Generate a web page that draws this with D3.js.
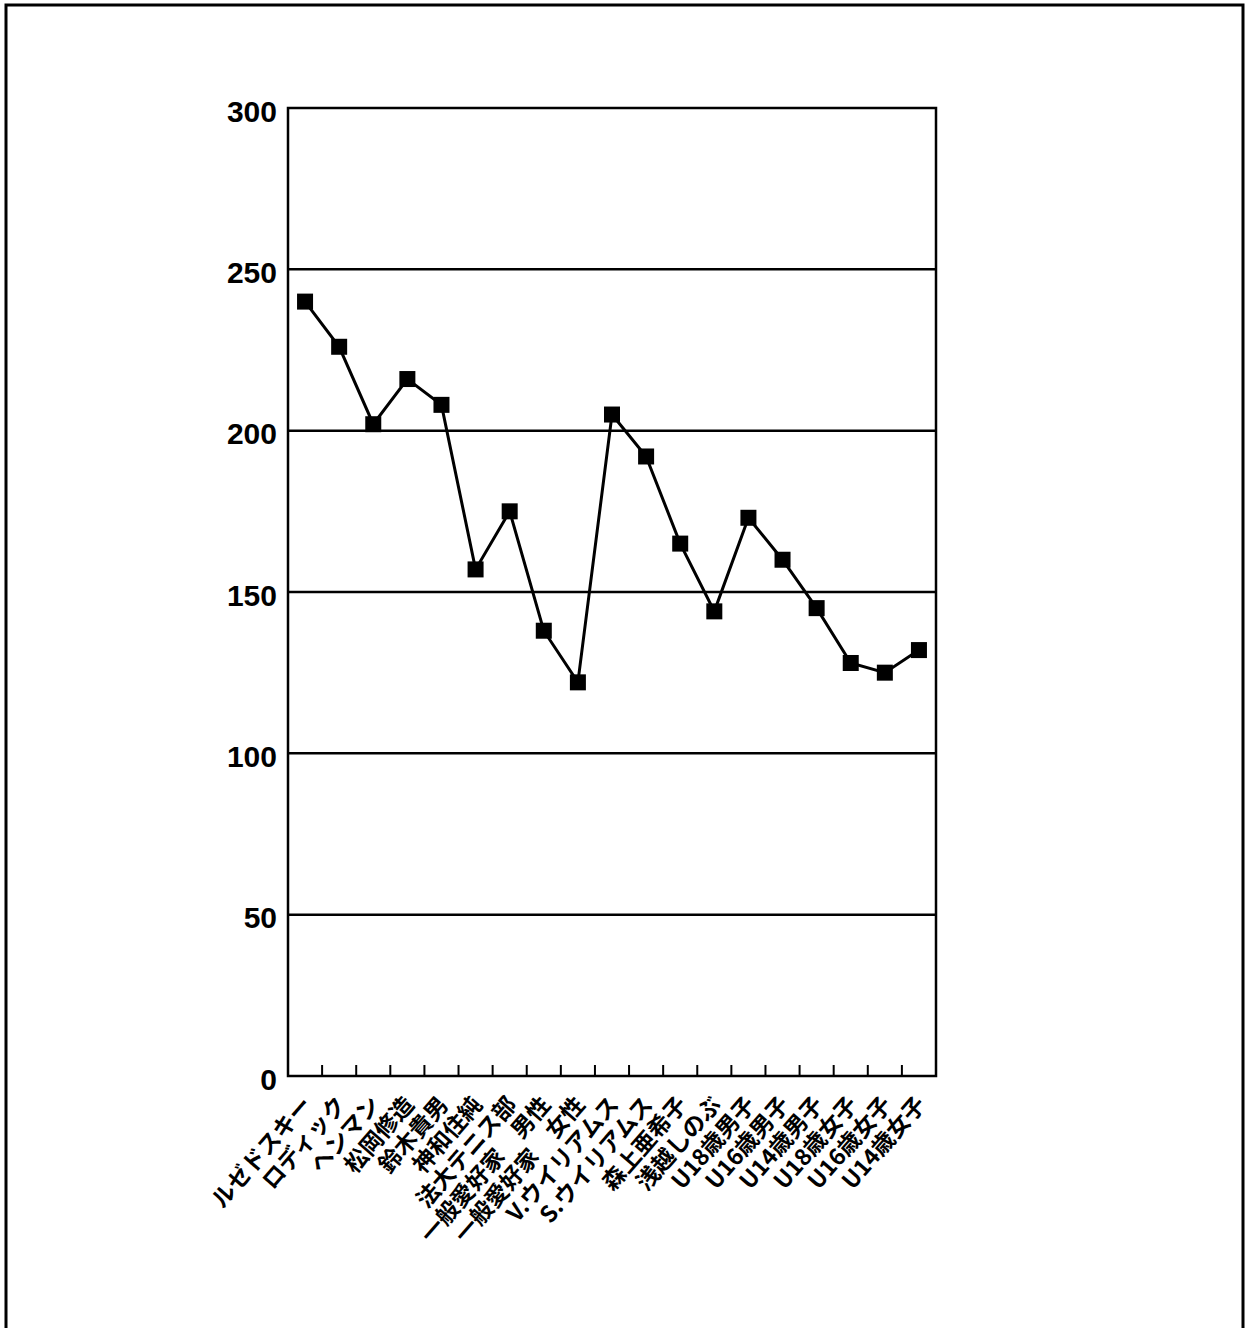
<!DOCTYPE html>
<html><head><meta charset="utf-8">
<script src="https://cdn.jsdelivr.net/npm/d3@7"></script>
<style>body{margin:0;background:#fff}</style>
</head><body>
<script>
const categories = ["ルゼドスキー","ロディック","ヘンマン","松岡修造","鈴木貴男","神和住純","法大テニス部","一般愛好家　男性","一般愛好家　女性","V.ウイリアムス","S.ウイリアムス","森上亜希子","浅越しのぶ","U18歳男子","U16歳男子","U14歳男子","U18歳女子","U16歳女子","U14歳女子"];
const values = [240,226,202,216,208,157,175,138,122,205,192,165,144,173,160,145,128,125,132];
const yTicks = [0,50,100,150,200,250,300];

(function(){
const W = 1248, H = 1328;
const svg = d3.select("body").append("svg").attr("width", W).attr("height", H);
const pL = 288, pR = 936, pT = 108, pB = 1076;
const font = "'Liberation Sans', Arial, sans-serif";
const cjk = "'Noto Sans CJK JP', 'Liberation Sans', sans-serif";

// outer frame
svg.append("path").attr("d", `M6,1328 V5 H1243 V1328`).attr("fill","none").attr("stroke","#000").attr("stroke-width",3);

const x = d3.scaleBand().domain(categories).range([pL, pR]);
const y = d3.scaleLinear().domain([0,300]).range([pB, pT]);

// gridlines
svg.append("g").selectAll("line").data(yTicks.filter(d=>d>0 && d<300)).join("line")
  .attr("x1", pL).attr("x2", pR).attr("y1", d=>y(d)).attr("y2", d=>y(d))
  .attr("stroke","#000").attr("stroke-width",2.5);

// plot frame
svg.append("rect").attr("x", pL).attr("y", pT).attr("width", pR-pL).attr("height", pB-pT)
  .attr("fill","none").attr("stroke","#000").attr("stroke-width",2.5);

// y axis labels
svg.append("g").selectAll("text").data(yTicks).join("text")
  .attr("x", 277).attr("y", d=>y(d)).attr("dy","0.45em").attr("text-anchor","end")
  .attr("font-family", font).attr("font-weight","bold").attr("font-size",30).text(d=>d);

// x ticks at category boundaries (inward)
svg.append("g").selectAll("line").data(categories.slice(1)).join("line")
  .attr("x1", d=>x(d)).attr("x2", d=>x(d)).attr("y1", pB).attr("y2", pB-11)
  .attr("stroke","#000").attr("stroke-width",2);

// x labels
svg.append("g").selectAll("text").data(categories).join("text")
  .attr("transform", d=>`translate(${x(d)+x.bandwidth()/2+2},${pB+24}) rotate(-49)`)
  .attr("text-anchor","end").attr("dy","0.35em")
  .attr("font-family", cjk).attr("font-weight","bold").attr("font-size",23).text(d=>d);

// line
const line = d3.line().x((d,i)=>x(categories[i])+x.bandwidth()/2).y(d=>y(d));
svg.append("path").datum(values).attr("d", line).attr("fill","none").attr("stroke","#000").attr("stroke-width",3);

// markers
const s = 16;
svg.append("g").selectAll("rect").data(values).join("rect")
  .attr("x", (d,i)=>x(categories[i])+x.bandwidth()/2 - s/2).attr("y", d=>y(d)-s/2)
  .attr("width", s).attr("height", s).attr("fill","#000");
})();
</script>
</body></html>
